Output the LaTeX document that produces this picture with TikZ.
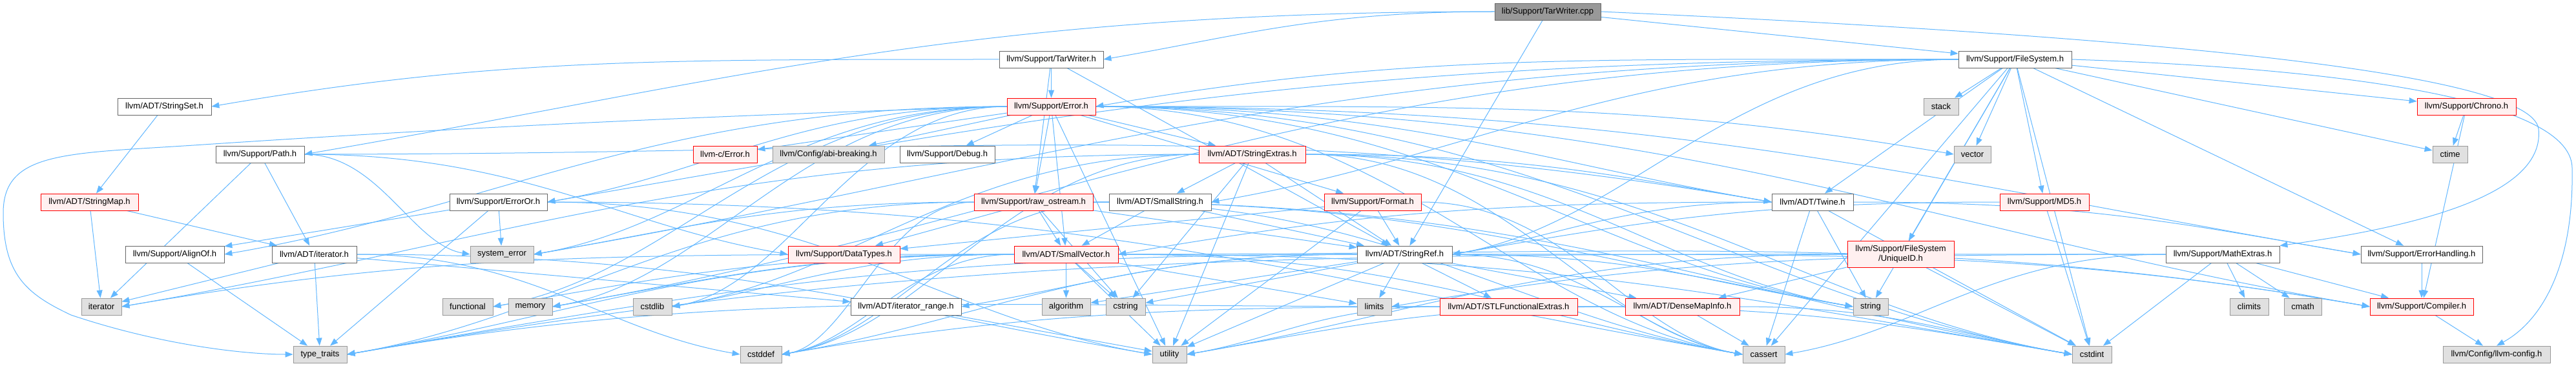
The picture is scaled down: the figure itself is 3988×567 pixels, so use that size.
\documentclass[tikz,border=0pt]{standalone}
\usepackage{fontspec}
\setmainfont{Liberation Sans}
\usetikzlibrary{arrows.meta,backgrounds,calc}
\definecolor{edgec}{HTML}{63B8FF}
\definecolor{redfill}{HTML}{FFF0F0}
\definecolor{grayfill}{HTML}{E0E0E0}
\definecolor{rootfill}{HTML}{999999}
\newcommand\mknode[6]{%
  \pgfmathsetmacro\nw{#3-#2}%
  \pgfmathsetmacro\nx{(#2+#3)/2}%
  \node[#5, minimum width=\nw pt] (#1) at (\nx,#4) {#6};}
\tikzset{
  basebox/.style={rectangle, inner sep=0pt, minimum height=26pt, line width=0.8pt,
    font=\fontsize{13}{15}\selectfont, text=black},
  nbox/.style={basebox, draw=black!60, fill=white},
  rbox/.style={basebox, draw=red, fill=redfill},
  gbox/.style={basebox, draw=black!40, fill=grayfill},
  rootbox/.style={basebox, draw=black!60, fill=rootfill},
  edg/.style={draw=edgec, line width=1pt, -{Triangle[length=12pt,width=9pt]}},
}
\begin{document}
\begin{tikzpicture}[x=1pt,y=-1pt]
\useasboundingbox (0,0) rectangle (3988,567);
% row 1
\mknode{cpp}{2314}{2478}{18}{rootbox}{lib/Support/TarWriter.cpp}
% row 2
\mknode{twh}{1547}{1708}{92}{nbox}{llvm/Support/TarWriter.h}
\mknode{fs}{3032}{3207}{92}{nbox}{llvm/Support/FileSystem.h}
% row 3
\mknode{sset}{182}{327}{165}{nbox}{llvm/ADT/StringSet.h}
\mknode{err}{1559}{1696}{165}{rbox}{llvm/Support/Error.h}
\mknode{stack}{2978}{3032}{165}{gbox}{stack}
\mknode{chrono}{3742}{3895}{165}{rbox}{llvm/Support/Chrono.h}
% row 4
\mknode{path}{334}{471}{239}{nbox}{llvm/Support/Path.h}
\mknode{cerr}{1073}{1172}{239}{rbox}{llvm-c/Error.h}
\mknode{abi}{1196}{1369}{239}{gbox}{llvm/Config/abi-breaking.h}
\mknode{dbg}{1393}{1540}{239}{nbox}{llvm/Support/Debug.h}
\mknode{sext}{1856}{2021}{239}{rbox}{llvm/ADT/StringExtras.h}
\mknode{vector}{3025}{3082}{239}{gbox}{vector}
\mknode{ctime}{3766}{3820}{239}{gbox}{ctime}
% row 5
\mknode{smap}{63}{214}{313}{rbox}{llvm/ADT/StringMap.h}
\mknode{eor}{696}{847}{313}{nbox}{llvm/Support/ErrorOr.h}
\mknode{ros}{1508}{1692}{313}{rbox}{llvm/Support/raw\_ostream.h}
\mknode{sstr}{1717}{1875}{313}{nbox}{llvm/ADT/SmallString.h}
\mknode{fmt}{2050}{2200}{313}{rbox}{llvm/Support/Format.h}
\mknode{twine}{2743}{2869}{313}{nbox}{llvm/ADT/Twine.h}
\mknode{md5}{3096}{3234}{313}{rbox}{llvm/Support/MD5.h}
% row 6
\mknode{align}{194}{347}{394}{nbox}{llvm/Support/AlignOf.h}
\mknode{iterh}{421}{552}{394}{nbox}{llvm/ADT/iterator.h}
\mknode{syserr}{728}{826}{394}{gbox}{system\_error}
\mknode{dtypes}{1220}{1393}{394}{rbox}{llvm/Support/DataTypes.h}
\mknode{svec}{1570}{1731}{394}{rbox}{llvm/ADT/SmallVector.h}
\mknode{sref}{2101}{2248}{394}{nbox}{llvm/ADT/StringRef.h}
\mknode{uid}{2860}{3025}{394}{rbox,minimum height=41pt,align=center}{llvm/Support/FileSystem\\/UniqueID.h}
\mknode{mext}{3353}{3529}{394}{nbox}{llvm/Support/MathExtras.h}
\mknode{eh}{3655}{3843}{394}{nbox}{llvm/Support/ErrorHandling.h}
% row 7
\mknode{iter}{126}{188}{475}{gbox}{iterator}
\mknode{func}{685}{763}{475}{gbox}{functional}
\mknode{mem}{787}{855}{475}{gbox}{memory}
\mknode{cstdlib}{980}{1040}{475}{gbox}{cstdlib}
\mknode{irange}{1317}{1488}{475}{nbox}{llvm/ADT/iterator\_range.h}
\mknode{algo}{1613}{1688}{475}{gbox}{algorithm}
\mknode{cstring}{1712}{1773}{475}{gbox}{cstring}
\mknode{limits}{2101}{2154}{475}{gbox}{limits}
\mknode{stlf}{2229}{2442}{475}{rbox}{llvm/ADT/STLFunctionalExtras.h}
\mknode{dmi}{2516}{2693}{475}{rbox}{llvm/ADT/DenseMapInfo.h}
\mknode{string}{2869}{2923}{475}{gbox}{string}
\mknode{climits}{3452}{3512}{475}{gbox}{climits}
\mknode{cmath}{3536}{3594}{475}{gbox}{cmath}
\mknode{comp}{3669}{3829}{475}{rbox}{llvm/Support/Compiler.h}
% row 8
\mknode{tt}{454}{537}{549}{gbox}{type\_traits}
\mknode{cstddef}{1146}{1210}{549}{gbox}{cstddef}
\mknode{util}{1784}{1837}{549}{gbox}{utility}
\mknode{cassert}{2698}{2763}{549}{gbox}{cassert}
\mknode{cstdint}{3208}{3269}{549}{gbox}{cstdint}
\mknode{lcfg}{3782}{3948}{549}{gbox}{llvm/Config/llvm-config.h}

\begin{pgfonlayer}{background}
\fill[white] (0,0) rectangle (3988,567);
% short or steep edges
\foreach \s/\t in {cpp/sref, cpp/fs,
  twh/err, twh/ros, twh/sref,
  fs/twine, fs/chrono, fs/eh, fs/uid, fs/md5, fs/cassert, fs/cstdint, fs/ctime,
  fs/stack, fs/string, fs/vector,
  sset/smap, smap/iter, smap/iterh,
  path/iter, path/iterh,
  iterh/irange, iterh/iter, iterh/tt,
  align/tt,
  eor/align, eor/syserr, eor/tt,
  err/cerr, err/abi, err/dbg, err/sext, err/ros, err/fmt, err/svec, err/util,
  ros/dtypes, ros/sref, ros/svec, ros/cstring,
  sext/sstr, sext/sref, sext/cstring, sext/util,
  sstr/svec, sstr/sref,
  svec/algo, svec/cstring, svec/util, svec/limits,
  fmt/sref, fmt/dtypes, fmt/util,
  sref/dmi, sref/stlf, sref/algo, sref/cstring, sref/limits, sref/util,
  twine/cassert, twine/cstdint, twine/string,
  md5/cstdint, uid/dmi, uid/cstdint,
  chrono/ctime, chrono/comp, eh/comp,
  mext/comp, mext/climits, mext/cmath, mext/cstdint,
  comp/lcfg, dmi/cassert, irange/util}
  {\draw[edg] (\s) -- (\t);}
% long edges going right
\foreach \s/\t in {err/twine, err/comp, err/eh, err/cassert, err/cstdint, err/string, err/vector,
  ros/cassert, ros/cstdint, ros/string,
  sext/twine, sext/cassert, sext/cstdint, sext/string,
  svec/cassert, svec/cstdint, svec/comp,
  sref/comp, sref/string, sref/cassert,
  twine/eh, path/twine, path/dtypes, path/syserr,
  fmt/cassert, iterh/util, iterh/cstddef,
  eor/util, eor/cassert, stlf/cstdint, dmi/cstdint}
  {\draw[edg] let \p1=(\s.east), \p2=(\t.west) in (\p1)
     .. controls ({\x1+0.45*(\x2-\x1)},\y1) and ({\x2-0.35*(\x2-\x1)},{\y2+0.06*(\x2-\x1)}) .. (\p2);}
% long edges going left
\foreach \s/\t in {cpp/twh, cpp/path, twh/sset,
  fs/sstr, fs/sref, fs/err, fs/eor, fs/mem, fs/syserr,
  err/align, err/eor, err/cstdlib, err/func, err/mem, err/syserr,
  ros/syserr, ros/tt, ros/cstddef,
  sext/iter, sext/cstdlib, sext/cstddef, sstr/cstddef,
  svec/func, svec/iter, svec/mem, svec/tt, svec/cstdlib, svec/cstddef,
  sref/tt, sref/cstddef, sref/irange,
  mext/tt, mext/limits, mext/cassert,
  md5/sref, uid/util, dmi/util, dmi/cstddef,
  stlf/tt, stlf/util, twine/svec, twine/sref}
  {\draw[edg] let \p1=(\s.west), \p2=(\t.east) in (\p1)
     .. controls ({\x1-0.45*(\x1-\x2)},\y1) and ({\x2+0.35*(\x1-\x2)},{\y2+0.06*(\x1-\x2)}) .. (\p2);}
% routed edges along the borders
\coordinate (lp1) at (300,225);
\coordinate (lp2) at (5,330);
\coordinate (lp3) at (110,488);
\draw[edg] (err.west) .. controls (1000,182) and (600,205) .. (lp1)
  .. controls (100,238) and (5,235) .. (lp2)
  .. controls (5,425) and (40,455) .. (lp3)
  .. controls (250,535) and (380,549) .. (tt.west);
\coordinate (rp1) at (3930,200);
\draw[edg] (cpp.east) .. controls (3300,55) and (3920,110) .. (rp1)
  .. controls (3940,300) and (3750,350) .. (mext.north east);
\coordinate (rp2) at (3982,260);
\draw[edg] (fs.east) .. controls (3600,105) and (3980,150) .. (rp2)
  .. controls (3985,420) and (3930,500) .. (lcfg.north);
\end{pgfonlayer}
\end{tikzpicture}
\end{document}
